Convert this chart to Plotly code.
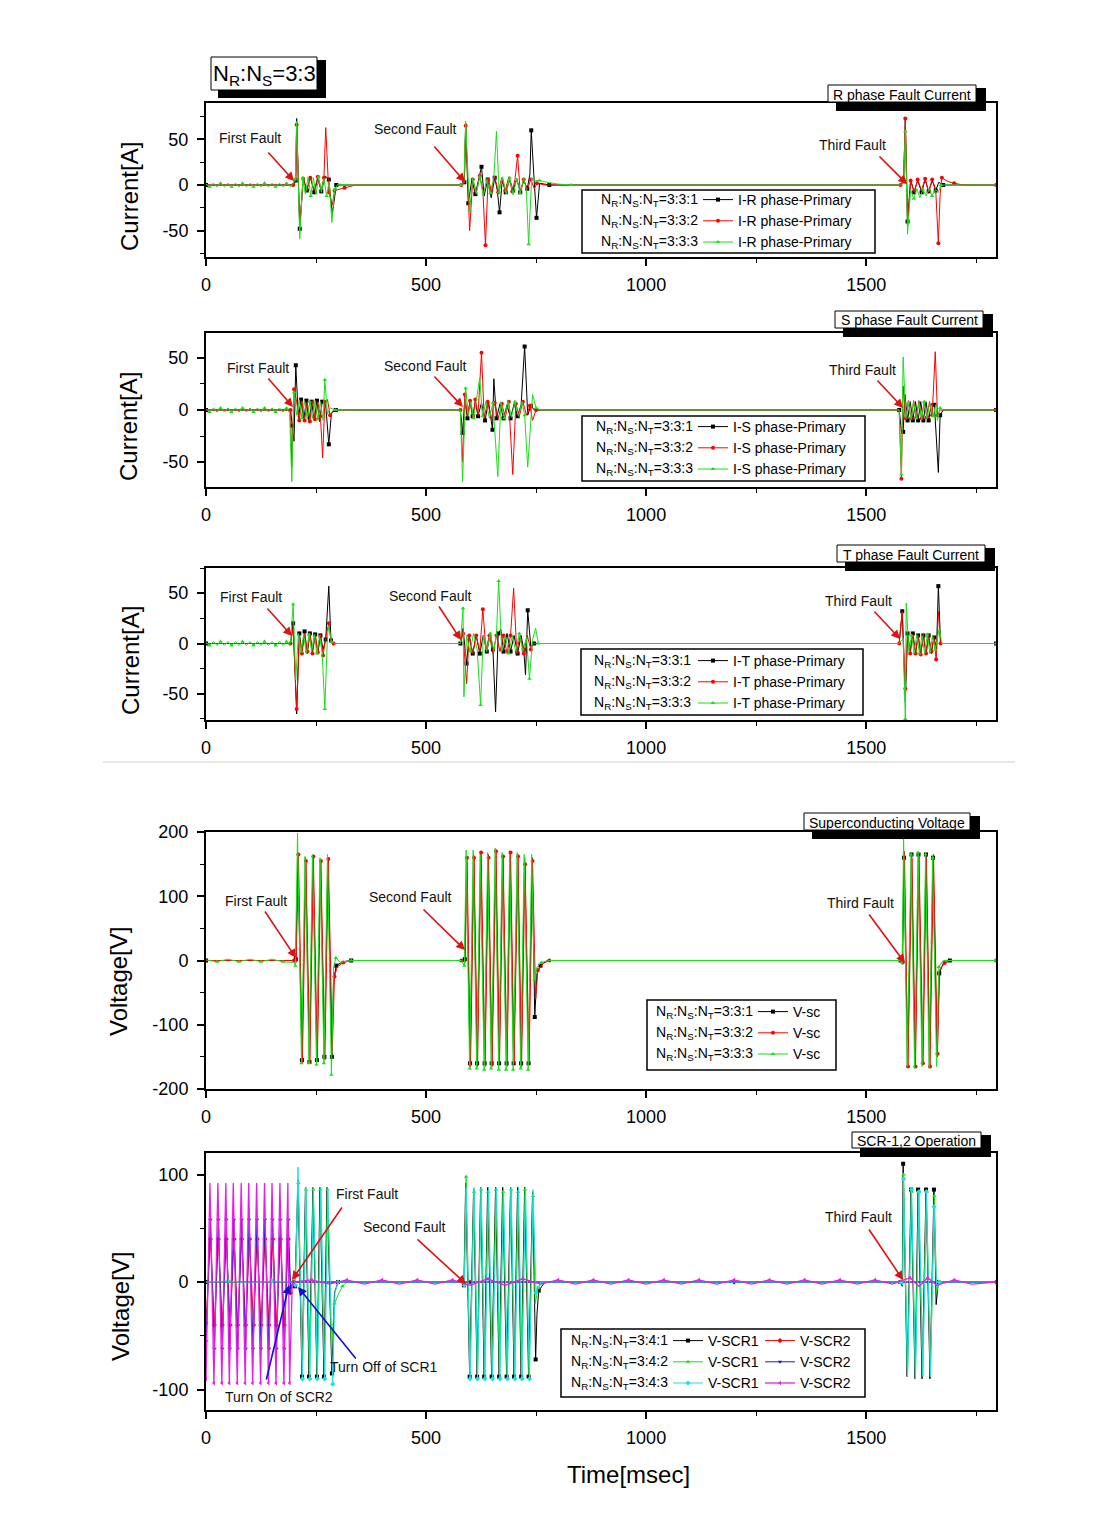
import plotly.graph_objects as go

W, H = 1103, 1534
FONT = "Liberation Sans, Arial, sans-serif"

# ---------------- data: (time [msec], value) samples ----------------
# Panel 1: R phase fault current [A]
R_331 = [(0,0),(198,0),(204,5),(206,73),(213,-48),(221,8),(229,-6),(237,9),(246,-8),(254,7),(262,-7),(271,10),(279,6),(287,-32),(296,0),
         (580,0),(587,3),(590,68),(596,-20),(604,6),(612,-10),(620,8),(626,20),(632,-12),(640,6),(648,-14),(656,8),(662,-6),(667,-30),(673,5),(681,-8),(690,6),(698,-6),(706,7),(714,-8),(722,5),(730,-4),(736,12),(739,60),(745,10),(751,-36),(758,2),(780,0),
         (1578,0),(1585,4),(1589,73),(1594,-40),(1601,6),(1609,-8),(1617,5),(1626,-8),(1634,6),(1642,-7),(1650,5),(1658,-6),(1665,3),(1675,0),(1795,0)]
R_332 = [(0,0),(198,0),(204,4),(206,66),(213,-45),(221,7),(229,-7),(237,8),(246,-6),(254,9),(262,-5),(268,8),(272,63),(279,-8),(287,-22),(292,-6),(300,-5),(315,-3),(340,0),
         (580,0),(587,2),(590,65),(599,-50),(606,6),(614,-8),(622,10),(629,-5),(635,-66),(641,8),(648,-6),(656,10),(664,-8),(672,8),(680,-6),(688,9),(696,-7),(702,6),(708,32),(714,-8),(722,6),(730,-5),(738,6),(746,-4),(752,2),(770,0),
         (1578,0),(1585,4),(1589,73),(1594,-45),(1601,5),(1609,-8),(1617,6),(1626,-6),(1634,7),(1642,-8),(1650,6),(1658,-5),(1664,-64),(1668,-10),(1672,8),(1685,4),(1700,2),(1720,0),(1795,0)]
R_333 = [(0,1),(8,-2),(17,2),(25,-2),(33,2),(42,-2),(50,2),(58,-2),(67,2),(75,-2),(83,2),(92,-2),(100,2),(108,-2),(117,2),(125,-2),(133,2),(142,-2),(150,2),(158,-2),(167,2),(175,-2),(183,2),(192,-2),
         (199,3),(203,6),(206,70),(213,-59),(220,8),(226,-10),(232,9),(238,-12),(244,8),(250,-10),(256,9),(262,-8),(268,7),(274,-12),(280,4),(286,-41),(292,-5),(300,1),(330,0),
         (580,0),(586,3),(590,70),(599,-28),(606,8),(614,-10),(622,9),(630,-12),(638,7),(646,-9),(654,8),(660,59),(666,-8),(674,9),(682,-10),(690,8),(698,-11),(706,7),(714,-9),(722,8),(728,-6),(733,-65),(740,8),(748,5),(758,5),(775,3),(800,1),(830,0),
         (1578,0),(1585,3),(1589,59),(1594,-54),(1601,-5),(1608,-15),(1615,-4),(1622,-14),(1629,-5),(1636,-12),(1643,-4),(1650,-12),(1657,-5),(1664,-8),(1670,0),(1795,0)]

# Panel 2: S phase fault current [A]
S_331 = [(0,0),(192,0),(196,-15),(200,-30),(204,43),(210,-8),(216,10),(222,-10),(228,9),(234,-11),(240,8),(246,-10),(252,9),(258,-11),(264,8),(272,5),(279,-33),(285,-3),(295,0),
         (578,0),(583,-22),(588,10),(594,-8),(600,8),(606,-6),(612,8),(618,-6),(626,7),(634,-10),(642,8),(651,-19),(654,30),(660,-8),(668,6),(676,-8),(684,5),(692,-8),(700,6),(708,-6),(716,5),(724,61),(731,-5),(738,4),(746,0),
         (1575,0),(1580,-20),(1584,-21),(1588,15),(1594,-10),(1600,8),(1606,-10),(1612,8),(1618,-10),(1624,8),(1630,-10),(1636,8),(1642,-10),(1648,6),(1655,5),(1664,-60),(1668,-5),(1675,0),(1795,0)]
S_332 = [(0,0),(192,0),(195,-55),(200,20),(206,8),(212,-10),(218,9),(224,-10),(230,8),(236,-11),(242,9),(248,-9),(254,8),(260,-6),(265,-46),(270,8),(276,10),(282,-5),(290,0),
         (578,0),(583,-50),(588,15),(594,-6),(600,9),(606,-8),(612,10),(618,-5),(626,55),(632,-8),(640,8),(648,-9),(656,7),(664,-8),(672,6),(680,-7),(688,8),(697,-62),(704,6),(712,-6),(720,8),(728,-5),(736,4),(742,-10),(750,0),
         (1575,0),(1580,-66),(1584,23),(1590,-8),(1596,9),(1602,-8),(1608,9),(1614,-7),(1620,9),(1626,-8),(1632,8),(1638,-7),(1644,8),(1650,-5),(1657,56),(1662,-5),(1668,0),(1795,0)]
S_333 = [(0,1),(8,-2),(17,2),(25,-2),(33,2),(42,-2),(50,2),(58,-2),(67,2),(75,-2),(83,2),(92,-2),(100,2),(108,-2),(117,2),(125,-2),(133,2),(142,-2),(150,2),(158,-2),(167,2),(175,-2),(183,2),(190,-3),
         (195,-69),(200,17),(206,-5),(212,10),(218,-8),(224,9),(230,-9),(236,8),(242,-8),(248,9),(254,-9),(260,8),(266,-10),(270,29),(276,-4),(282,2),(295,0),
         (578,0),(583,-69),(590,21),(596,-5),(602,8),(608,-8),(614,9),(622,31),(628,-6),(636,8),(644,-8),(652,7),(663,-64),(670,8),(678,-8),(686,9),(694,-7),(702,8),(710,-6),(718,8),(724,-5),(731,-55),(742,15),(750,2),(760,0),
         (1575,0),(1580,-62),(1584,51),(1590,-8),(1596,7),(1602,-9),(1608,8),(1614,-8),(1620,7),(1626,-9),(1632,8),(1638,-8),(1644,6),(1652,-6),(1658,5),(1662,-10),(1668,2),(1675,0),(1795,0)]

# Panel 3: T phase fault current [A]
T_331 = [(0,0),(192,0),(198,20),(206,-70),(212,10),(218,-8),(224,12),(230,-10),(236,10),(242,-8),(248,9),(254,-10),(260,8),(266,-6),(272,4),(279,57),(284,3),(290,0),
         (578,0),(584,15),(592,-20),(598,8),(606,-10),(614,8),(622,-10),(630,8),(638,-8),(646,10),(652,-6),(658,-68),(664,10),(670,14),(676,-8),(684,10),(692,-8),(700,8),(708,-10),(716,8),(722,-6),(726,-31),(731,33),(738,-3),(745,0),
         (1575,0),(1582,32),(1589,-58),(1594,10),(1600,-8),(1606,10),(1612,-10),(1618,8),(1624,-10),(1630,8),(1636,-10),(1642,8),(1648,-10),(1654,6),(1660,-5),(1664,57),(1669,0),(1795,0)]
T_332 = [(0,0),(192,0),(198,15),(206,-65),(212,8),(218,-10),(224,10),(230,-8),(236,10),(242,-10),(248,9),(254,-9),(260,10),(266,-12),(272,6),(279,20),(284,2),(290,0),
         (578,0),(584,10),(592,-40),(598,8),(606,-10),(614,8),(622,-8),(629,34),(636,-6),(644,8),(652,-10),(660,8),(668,-8),(676,8),(684,-10),(692,8),(699,55),(706,-8),(714,8),(722,-10),(730,8),(738,-6),(745,0),
         (1575,0),(1582,32),(1589,-45),(1594,8),(1600,-10),(1606,9),(1612,-10),(1618,8),(1624,-11),(1630,9),(1636,-10),(1642,8),(1648,-8),(1654,6),(1659,-16),(1664,32),(1669,0),(1795,0)]
T_333 = [(0,1),(8,-2),(17,2),(25,-2),(33,2),(42,-2),(50,2),(58,-2),(67,2),(75,-2),(83,2),(92,-2),(100,2),(108,-2),(117,2),(125,-2),(133,2),(142,-2),(150,2),(158,-2),(167,2),(175,-2),(183,2),(190,-2),
         (193,5),(198,39),(204,-36),(210,10),(216,-8),(222,9),(228,-10),(234,9),(240,-8),(246,9),(252,-10),(258,8),(264,-10),(270,-65),(276,8),(279,17),(285,2),(292,0),
         (578,0),(584,35),(586,-53),(592,8),(600,-8),(608,10),(616,-6),(624,-61),(630,8),(638,-8),(646,10),(654,-8),(660,10),(665,62),(672,-8),(680,8),(688,-10),(696,8),(704,-8),(712,10),(720,-8),(728,6),(735,-35),(742,4),(749,15),(755,0),
         (1575,0),(1584,5),(1589,-75),(1591,40),(1597,-8),(1603,8),(1609,-10),(1615,9),(1621,-10),(1627,8),(1633,-10),(1639,9),(1645,-10),(1651,8),(1657,-6),(1666,15),(1672,0),(1795,0)]

# Panel 4: superconducting voltage [V]
V_331 = [(0,0),(200,0),(204,2),(209,160),(218,-155),(226,160),(235,-158),(243,160),(252,-155),(260,158),(269,-150),(277,160),(286,-150),(290,-30),(296,-8),(310,-2),(330,0),
         (580,0),(588,2),(592,150),(600,-160),(608,165),(616,-160),(624,165),(633,-160),(641,165),(649,-160),(658,165),(666,-160),(674,165),(683,-160),(691,165),(699,-160),(708,165),(716,-160),(724,160),(733,-160),(741,160),(747,-88),(752,-20),(760,-8),(775,0),
         (1578,0),(1582,2),(1586,160),(1594,-160),(1603,165),(1611,-160),(1619,165),(1628,-160),(1636,165),(1644,-160),(1652,160),(1661,-150),(1666,-20),(1675,-5),(1690,0),(1795,0)]
V_332 = [(0,0),(200,0),(205,-3),(210,165),(219,-160),(227,155),(236,-160),(244,162),(253,-158),(261,155),(270,-155),(278,158),(287,-140),(292,-25),(298,-10),(312,-3),(330,0),
         (580,0),(589,-3),(593,160),(601,-165),(609,160),(617,-165),(625,168),(634,-165),(642,160),(650,-165),(659,170),(667,-160),(675,162),(684,-165),(692,168),(700,-160),(709,162),(717,-165),(725,150),(734,-160),(742,155),(749,-60),(754,-15),(765,-5),(780,0),
         (1578,0),(1583,-3),(1587,170),(1595,-165),(1604,160),(1612,-165),(1620,162),(1629,-160),(1637,160),(1645,-165),(1653,165),(1662,-145),(1667,-15),(1678,-4),(1690,0),(1795,0)]
V_333 = [(0,1),(25,-2),(50,2),(75,-2),(100,2),(125,-2),(150,2),(175,-2),(200,-3),(203,-8),(208,198),(217,-160),(225,162),(234,-160),(242,165),(251,-162),(259,160),(268,-160),(276,165),(285,-178),(290,-10),(295,4),(305,-3),(330,0),
         (580,0),(587,-8),(591,172),(599,-168),(607,172),(615,-168),(623,165),(632,-170),(640,168),(648,-168),(657,175),(665,-170),(673,168),(682,-170),(690,165),(698,-170),(707,168),(715,-168),(723,165),(732,-170),(740,165),(746,-30),(752,-10),(762,-3),(780,0),
         (1578,0),(1582,-6),(1585,195),(1593,-165),(1602,165),(1610,-168),(1618,168),(1627,-165),(1635,165),(1643,-168),(1651,160),(1660,-165),(1665,-10),(1675,0),(1795,0)]

# Panel 5: SCR-1,2 voltages [V]
SCR1_341 = [(0,0),(196,0),(202,-4),(209,95),(218,-88),(226,88),(234,-88),(243,88),(252,-88),(259,88),(268,-88),(275,88),(286,-85),(292,-10),(300,0),
            (580,0),(586,-3),(590,92),(599,-88),(608,86),(616,-88),(624,88),(632,-88),(640,88),(649,-88),(658,88),(666,-88),(674,88),(683,-88),(692,88),(700,-88),(708,88),(716,-88),(724,88),(733,-88),(742,84),(749,-72),(752,-30),(756,-8),(770,0),
            (1578,0),(1582,-4),(1584,110),(1593,-88),(1602,86),(1611,-90),(1618,86),(1627,-90),(1636,86),(1645,-90),(1654,86),(1659,-21),(1664,0),(1795,0)]
SCR2_341 = [(0,-38),(10,40),(19,-40),(28,40),(37,-40),(46,40),(55,-40),(64,40),(72,-40),(81,40),(90,-40),(99,40),(108,-40),(116,40),(125,-40),(134,40),(143,-40),(152,40),(160,-40),(169,40),(178,-40),(187,40),(192,-10),(198,0),(600,0),(1200,0),(1795,0)]
SCR1_342 = [(0,0),(196,0),(203,-3),(210,92),(219,-86),(227,86),(235,-86),(244,86),(253,-86),(260,86),(269,-86),(276,86),(285,-60),(292,-20),(300,-12),(310,-4),(320,0),
            (580,0),(587,-2),(591,98),(600,-86),(609,84),(617,-86),(625,86),(633,-86),(641,84),(650,-86),(659,86),(667,-86),(675,84),(684,-86),(693,86),(701,-86),(709,84),(717,-86),(725,86),(734,-86),(743,80),(748,-20),(755,-5),(765,0),
            (1578,0),(1583,-3),(1585,100),(1594,-86),(1603,84),(1612,-86),(1619,84),(1628,-86),(1637,84),(1646,-86),(1655,80),(1660,-10),(1665,0),(1795,0)]
SCR2_342 = [(0,-55),(10,58),(19,-62),(28,58),(37,-62),(46,58),(54,-62),(63,58),(72,-62),(81,58),(90,-62),(98,58),(107,-62),(116,58),(125,-62),(134,58),(143,-62),(151,58),(160,-62),(169,58),(178,-62),(187,58),(192,-5),(198,0),(600,0),(1200,0),(1795,0)]
SCR1_343 = [(0,0),(50,1),(100,-1),(150,1),(196,0),(203,-3),(209,107),(219,-90),(227,88),(236,-90),(244,88),(253,-90),(261,88),(270,-90),(277,86),(288,-95),(293,-10),(300,0),
            (580,0),(587,-3),(591,88),(600,-90),(609,88),(617,-90),(625,88),(634,-90),(642,88),(651,-90),(660,88),(668,-90),(676,88),(685,-90),(693,88),(702,-90),(710,88),(718,-90),(726,88),(735,-90),(743,86),(750,-10),(760,0),
            (1578,0),(1583,-3),(1585,96),(1594,-88),(1603,86),(1612,-90),(1620,84),(1629,-88),(1637,84),(1646,-88),(1654,70),(1660,-5),(1666,0),(1795,0)]
SCR2_343 = [(0,-90),(9,92),(18,-94),(27,92),(36,-94),(45,92),(53,-94),(62,92),(71,-94),(80,92),(89,-94),(97,92),(106,-94),(115,92),(124,-94),(133,92),(142,-94),(150,92),(159,-94),(168,92),(177,-94),(186,92),(190,-94),(196,0),
            (240,2),(280,-2),(320,2),(360,-2),(400,2),(440,-2),(480,2),(520,-2),(560,2),(600,-3),(640,3),(680,-3),(720,3),(760,-2),(800,2),(840,-2),(880,2),(920,-2),(960,2),(1000,-2),(1040,2),(1080,-2),(1120,2),(1160,-2),
            (1200,2),(1240,-2),(1280,2),(1320,-2),(1360,2),(1400,-2),(1440,2),(1480,-2),(1520,2),(1560,-2),(1600,4),(1620,-4),(1640,4),(1660,-3),(1700,2),(1740,-2),(1795,0)]

X_RANGE = [0, 1795]
X_TICKS = [0, 500, 1000, 1500]
X_MINOR_STEP = 250
Y_TICKS = [[-50, 0, 50], [-50, 0, 50], [-50, 0, 50], [-200, -100, 0, 100, 200], [-100, 0, 100]]

# ---------------- layout helpers (pixel -> paper) ----------------
def px(x): return x / W
def py(y): return 1 - y / H

PANELS = [
    dict(top=103, bot=257, yr=[-79, 90], mdt=25),
    dict(top=333, bot=487, yr=[-74, 74], mdt=25),
    dict(top=568, bot=720, yr=[-76, 75], mdt=25),
    dict(top=832, bot=1089, yr=[-200, 200], mdt=50),
    dict(top=1153, bot=1410, yr=[-119, 120], mdt=50),
]

fig = go.Figure()

def add(series, name, color, symbol, n, legend, width=1.0):
    t = [p[0] for p in series]
    v = [p[1] for p in series]
    sfx = "" if n == 1 else str(n)
    fig.add_trace(go.Scatter(
        x=t, y=v, mode="lines+markers", name=name,
        xaxis="x" + sfx, yaxis="y" + sfx, legend=legend,
        line=dict(color=color, width=width),
        marker=dict(symbol=symbol, size=4, color=color, maxdisplayed=40),
        hoverinfo="skip"))

BLACK, RED, GREEN = "#000000", "#ff0000", "#19e019"
BLUE, CYAN, MAGENTA = "#1a1ad0", "#1ee0e0", "#e61ee6"

add(R_331, "I-R phase-Primary", BLACK, "square", 1, "legend")
add(R_332, "I-R phase-Primary", RED, "circle", 1, "legend")
add(R_333, "I-R phase-Primary", GREEN, "triangle-up", 1, "legend")
add(S_331, "I-S phase-Primary", BLACK, "square", 2, "legend2")
add(S_332, "I-S phase-Primary", RED, "circle", 2, "legend2")
add(S_333, "I-S phase-Primary", GREEN, "triangle-up", 2, "legend2")
add(T_331, "I-T phase-Primary", BLACK, "square", 3, "legend3")
add(T_332, "I-T phase-Primary", RED, "circle", 3, "legend3")
add(T_333, "I-T phase-Primary", GREEN, "triangle-up", 3, "legend3")
add(V_331, "V-sc", BLACK, "square", 4, "legend4")
add(V_332, "V-sc", RED, "circle", 4, "legend4")
add(V_333, "V-sc", GREEN, "triangle-up", 4, "legend4")
add(SCR1_341, "V-SCR1", BLACK, "square", 5, "legend5")
add(SCR2_341, "V-SCR2", RED, "diamond", 5, "legend6")
add(SCR1_342, "V-SCR1", GREEN, "triangle-up", 5, "legend5")
add(SCR2_342, "V-SCR2", BLUE, "triangle-down", 5, "legend6")
add(SCR1_343, "V-SCR1", CYAN, "diamond", 5, "legend5")
add(SCR2_343, "V-SCR2", MAGENTA, "triangle-left", 5, "legend6", width=1.3)

layout = dict(
    width=W, height=H, margin=dict(l=0, r=0, t=0, b=0, pad=0, autoexpand=False),
    paper_bgcolor="white", plot_bgcolor="white",
    font=dict(family=FONT, color="black", size=14),
    showlegend=True,
)

for i, p in enumerate(PANELS, start=1):
    sfx = "" if i == 1 else str(i)
    layout["xaxis" + sfx] = dict(
        domain=[px(206), px(996)], range=X_RANGE, anchor="y" + sfx, automargin=False,
        tickmode="array", tickvals=X_TICKS, ticktext=[str(v) for v in X_TICKS],
        ticks="outside", ticklen=7, tickwidth=1.5, tickcolor="black",
        minor=dict(ticks="outside", ticklen=4, tickwidth=1, tickcolor="black",
                   tickmode="linear", dtick=X_MINOR_STEP, tick0=0),
        showline=True, linewidth=2, linecolor="black", mirror=True,
        showgrid=False, zeroline=False, ticklabelstandoff=3,
        tickfont=dict(size=18, family=FONT, color="black"))
    yt = Y_TICKS[i - 1]
    layout["yaxis" + sfx] = dict(
        domain=[py(p["bot"]), py(p["top"])], range=p["yr"], anchor="x" + sfx, automargin=False,
        tickmode="array", tickvals=yt, ticktext=[str(v) for v in yt],
        ticks="outside", ticklen=7, tickwidth=1.5, tickcolor="black",
        minor=dict(ticks="outside", ticklen=4, tickwidth=1, tickcolor="black",
                   tickmode="linear", dtick=p["mdt"], tick0=0),
        showline=True, linewidth=2, linecolor="black", mirror=True,
        showgrid=False, zeroline=False, ticklabelstandoff=5,
        tickfont=dict(size=18, family=FONT, color="black"))

# legends (x: 5px before line sample, y: top of the item stack)
LEG = {"legend": (698, 184), "legend2": (693, 411), "legend3": (693, 645),
       "legend4": (753, 996), "legend5": (668, 1325), "legend6": (760, 1325)}
for k, (lx, ly) in LEG.items():
    layout[k] = dict(x=px(lx), y=py(ly), xanchor="left", yanchor="top",
                     bgcolor="rgba(0,0,0,0)", borderwidth=0, tracegroupgap=0,
                     font=dict(size=14, family=FONT, color="black"))

shapes = []
annotations = []

def box(x0, y0, x1, y1, fill="white", lw=1.5):
    shapes.append(dict(type="rect", xref="paper", yref="paper", x0=px(x0), x1=px(x1), y0=py(y1), y1=py(y0),
                       fillcolor=fill, line=dict(color="black", width=lw), layer="above"))

def text(x, y, s, size=14, anchor="center", angle=0, color="#111111"):
    annotations.append(dict(x=px(x), y=py(y), xref="paper", yref="paper", text=s, showarrow=False,
                            xanchor=anchor, yanchor="middle", textangle=angle,
                            font=dict(size=size, family=FONT, color=color)))

def arrow(tip, tail, color="#e01010"):
    annotations.append(dict(x=px(tip[0]), y=py(tip[1]), xref="paper", yref="paper", text="",
                            showarrow=True, ax=tail[0] - tip[0], ay=tail[1] - tip[1],
                            arrowhead=2, arrowsize=1.1, arrowwidth=1.6, arrowcolor=color, standoff=0))

# legend frames
for (x0, y0, x1, y1) in [(582, 190, 875, 253), (582, 416, 865, 481), (581, 649, 863, 715),
                         (647, 1000, 836, 1070), (561, 1329, 865, 1397)]:
    box(x0, y0, x1, y1)

# title boxes with drop shadow
def titlebox(x0, y0, x1, y1, s, size=14, off=(8, 9)):
    shapes.append(dict(type="rect", xref="paper", yref="paper", x0=px(x0 + off[0]), x1=px(x1 + off[0] + 2),
                       y0=py(y1 + off[1]), y1=py(y0 + 3), fillcolor="black", line=dict(width=0), layer="above"))
    box(x0, y0, x1, y1, lw=1)
    text((x0 + x1) / 2, (y0 + y1) / 2 + 1, s, size=size, color="black")

titlebox(211, 57, 317, 90, "N<sub>R</sub>:N<sub>S</sub>=3:3", size=22, off=(7, 8))
titlebox(828, 85, 976, 102, "R phase Fault Current")
titlebox(835, 311, 983, 328, "S phase Fault Current")
titlebox(837, 545, 985, 562, "T phase Fault Current")
titlebox(804, 813, 970, 830, "Superconducting Voltage")
titlebox(852, 1132, 981, 1148, "SCR-1,2 Operation")

# separator line between current and voltage figures
shapes.append(dict(type="line", xref="paper", yref="paper", x0=px(103), x1=px(1015), y0=py(762), y1=py(762),
                   line=dict(color="#d0d0d0", width=1)))

# legend left-hand labels
def nlabel(ratio):
    return "N<sub>R</sub>:N<sub>S</sub>:N<sub>T</sub>=" + ratio

for (xr, first, ratios) in [(700, 200, ("3:3:1", "3:3:2", "3:3:3")),
                            (695, 427, ("3:3:1", "3:3:2", "3:3:3")),
                            (693, 661, ("3:3:1", "3:3:2", "3:3:3")),
                            (755, 1012, ("3:3:1", "3:3:2", "3:3:3")),
                            (670, 1341, ("3:4:1", "3:4:2", "3:4:3"))]:
    for k, r in enumerate(ratios):
        text(xr, first + 21 * k, nlabel(r), anchor="right", color="black")

# axis titles
text(130, 197, "Current[A]", size=24, angle=-90, color="black")
text(128, 427, "Current[A]", size=24, angle=-90, color="black")
text(130, 661, "Current[A]", size=24, angle=-90, color="black")
text(118, 982, "Voltage[V]", size=24, angle=-90, color="black")
text(120, 1307, "Voltage[V]", size=24, angle=-90, color="black")
text(628, 1474, "Time[msec]", size=24, color="black")

# fault annotations
text(250, 138, "First Fault"); arrow((294, 181), (267, 151))
text(415, 129, "Second Fault"); arrow((465, 182), (433, 145))
text(852, 145, "Third Fault"); arrow((907, 184), (878, 155))
text(258, 368, "First Fault"); arrow((293, 407), (267, 377))
text(425, 366, "Second Fault"); arrow((463, 407), (433, 375))
text(863, 370, "Third Fault"); arrow((903, 408), (876, 379))
text(251, 597, "First Fault"); arrow((292, 636), (266, 607))
text(430, 596, "Second Fault"); arrow((461, 640), (438, 605))
text(858, 601, "Third Fault"); arrow((900, 639), (873, 610))
text(256, 901, "First Fault"); arrow((296, 958), (264, 910))
text(410, 897, "Second Fault"); arrow((465, 950), (422, 908))
text(860, 903, "Third Fault"); arrow((905, 963), (868, 913))
text(367, 1194, "First Fault"); arrow((292, 1280), (343, 1206))
text(404, 1227, "Second Fault"); arrow((466, 1284), (416, 1238))
text(858, 1217, "Third Fault"); arrow((903, 1280), (868, 1228))
text(384, 1367, "Turn Off of SCR1"); arrow((298, 1287), (357, 1360), color="#1010d0")
text(279, 1397, "Turn On of SCR2"); arrow((289, 1285), (266, 1381), color="#1010d0")

layout["shapes"] = shapes
layout["annotations"] = annotations
fig.update_layout(**layout)
fig.write_html("out.html", config={"displayModeBar": False},
               post_script="document.body.style.margin='0px';")
